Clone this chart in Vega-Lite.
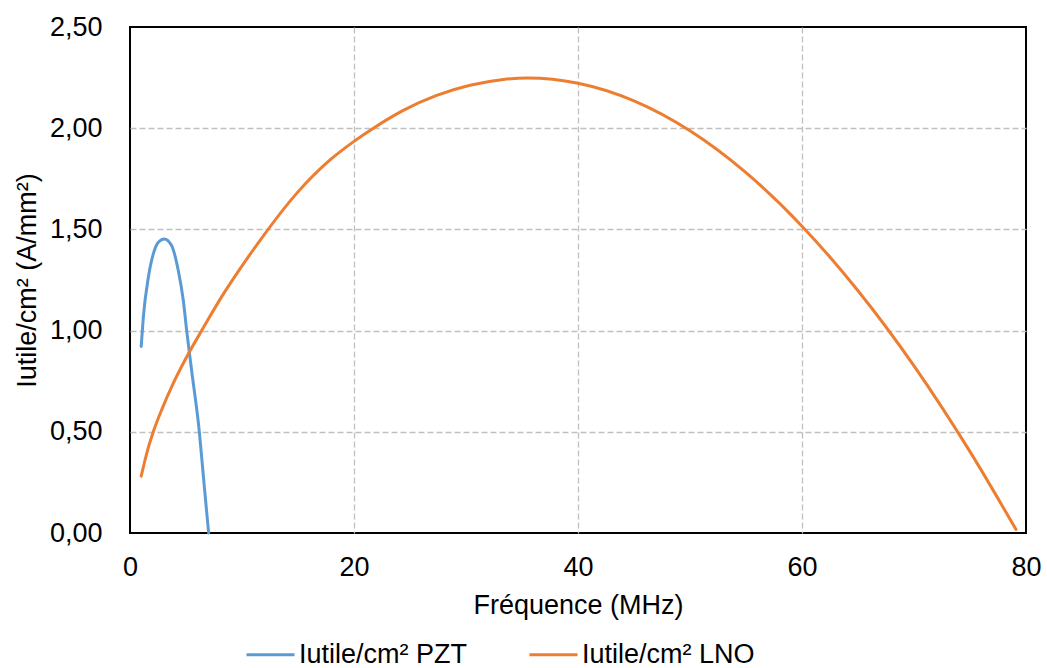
{
  "$schema": "https://vega.github.io/schema/vega-lite/v6.json",
  "width": 896,
  "height": 506,
  "autosize": {"type": "none"},
  "padding": {"left": 130, "top": 27, "right": 21, "bottom": 135},
  "background": "white",
  "config": {
    "font": "Liberation Sans",
    "view": {"stroke": "#000000", "strokeWidth": 2},
    "axis": {
      "domain": false,
      "ticks": false,
      "grid": true,
      "gridColor": "#BFBFBF",
      "gridDash": [6, 3],
      "gridWidth": 1.3,
      "labelFont": "Liberation Sans",
      "labelFontSize": 27,
      "labelColor": "#000000",
      "titleFont": "Liberation Sans",
      "titleFontSize": 27,
      "titleFontWeight": "normal",
      "titleColor": "#000000"
    },
    "legend": {
      "labelFont": "Liberation Sans",
      "labelFontSize": 27,
      "labelColor": "#000000",
      "labelLimit": 500
    }
  },
  "data": {
    "values": [
      {"f": 1.0, "v": 0.922, "s": "Iutile/cm² PZT"},
      {"f": 1.19, "v": 1.067, "s": "Iutile/cm² PZT"},
      {"f": 1.64, "v": 1.264, "s": "Iutile/cm² PZT"},
      {"f": 2.08, "v": 1.379, "s": "Iutile/cm² PZT"},
      {"f": 2.53, "v": 1.436, "s": "Iutile/cm² PZT"},
      {"f": 3.06, "v": 1.453, "s": "Iutile/cm² PZT"},
      {"f": 3.71, "v": 1.42, "s": "Iutile/cm² PZT"},
      {"f": 4.31, "v": 1.297, "s": "Iutile/cm² PZT"},
      {"f": 4.76, "v": 1.149, "s": "Iutile/cm² PZT"},
      {"f": 5.06, "v": 1.0, "s": "Iutile/cm² PZT"},
      {"f": 5.5, "v": 0.804, "s": "Iutile/cm² PZT"},
      {"f": 6.19, "v": 0.5, "s": "Iutile/cm² PZT"},
      {"f": 6.61, "v": 0.245, "s": "Iutile/cm² PZT"},
      {"f": 7.02, "v": 0.0, "s": "Iutile/cm² PZT"},
      {"f": 1.0, "v": 0.281, "s": "Iutile/cm² LNO"},
      {"f": 1.5, "v": 0.395, "s": "Iutile/cm² LNO"},
      {"f": 2.08, "v": 0.5, "s": "Iutile/cm² LNO"},
      {"f": 2.9, "v": 0.618, "s": "Iutile/cm² LNO"},
      {"f": 3.87, "v": 0.74, "s": "Iutile/cm² LNO"},
      {"f": 5.36, "v": 0.9, "s": "Iutile/cm² LNO"},
      {"f": 6.4, "v": 1.0, "s": "Iutile/cm² LNO"},
      {"f": 8.33, "v": 1.18, "s": "Iutile/cm² LNO"},
      {"f": 9.82, "v": 1.305, "s": "Iutile/cm² LNO"},
      {"f": 11.6, "v": 1.445, "s": "Iutile/cm² LNO"},
      {"f": 14.88, "v": 1.678, "s": "Iutile/cm² LNO"},
      {"f": 17.86, "v": 1.843, "s": "Iutile/cm² LNO"},
      {"f": 20.0, "v": 1.935, "s": "Iutile/cm² LNO"},
      {"f": 21.73, "v": 2.0, "s": "Iutile/cm² LNO"},
      {"f": 24.4, "v": 2.088, "s": "Iutile/cm² LNO"},
      {"f": 27.38, "v": 2.162, "s": "Iutile/cm² LNO"},
      {"f": 30.36, "v": 2.212, "s": "Iutile/cm² LNO"},
      {"f": 33.33, "v": 2.241, "s": "Iutile/cm² LNO"},
      {"f": 35.5, "v": 2.248, "s": "Iutile/cm² LNO"},
      {"f": 40.0, "v": 2.222, "s": "Iutile/cm² LNO"},
      {"f": 45.0, "v": 2.135, "s": "Iutile/cm² LNO"},
      {"f": 50.0, "v": 1.987, "s": "Iutile/cm² LNO"},
      {"f": 55.0, "v": 1.78, "s": "Iutile/cm² LNO"},
      {"f": 60.0, "v": 1.516, "s": "Iutile/cm² LNO"},
      {"f": 65.0, "v": 1.197, "s": "Iutile/cm² LNO"},
      {"f": 70.0, "v": 0.826, "s": "Iutile/cm² LNO"},
      {"f": 75.0, "v": 0.402, "s": "Iutile/cm² LNO"},
      {"f": 79.1, "v": 0.018, "s": "Iutile/cm² LNO"}
    ]
  },
  "mark": {"type": "line", "interpolate": "monotone", "strokeWidth": 3, "strokeCap": "round", "strokeJoin": "round"},
  "encoding": {
    "x": {
      "field": "f",
      "type": "quantitative",
      "scale": {"domain": [0, 80], "nice": false},
      "axis": {
        "values": [0, 20, 40, 60, 80],
        "title": "Fréquence (MHz)",
        "labelPadding": 21,
        "titleY": 80,
        "titleBaseline": "alphabetic",
        "labelFlush": false,
        "gridOpacity": {"condition": {"test": "datum.value === 0 || datum.value === 80", "value": 0}, "value": 1}
      }
    },
    "y": {
      "field": "v",
      "type": "quantitative",
      "scale": {"domain": [0, 2.5], "nice": false},
      "axis": {
        "values": [0, 0.5, 1, 1.5, 2, 2.5],
        "title": "Iutile/cm² (A/mm²)",
        "labelExpr": "replace(format(datum.value, '.2f'), '.', ',')",
        "labelPadding": 28,
        "titleX": -103,
        "titleY": 253,
        "titleBaseline": "middle",
        "titleAlign": "center",
        "labelFlush": false,
        "gridOpacity": {"condition": {"test": "datum.value === 0 || datum.value === 2.5", "value": 0}, "value": 1}
      }
    },
    "color": {
      "field": "s",
      "type": "nominal",
      "sort": ["Iutile/cm² PZT", "Iutile/cm² LNO"],
      "scale": {"domain": ["Iutile/cm² PZT", "Iutile/cm² LNO"], "range": ["#5B9BD5", "#ED7D31"]},
      "legend": {
        "title": null,
        "orient": "none",
        "direction": "horizontal",
        "legendX": 115,
        "legendY": 602,
        "symbolType": "stroke",
        "symbolSize": 2304,
        "symbolStrokeWidth": 3,
        "labelOffset": 3,
        "columnPadding": 55
      }
    }
  }
}
